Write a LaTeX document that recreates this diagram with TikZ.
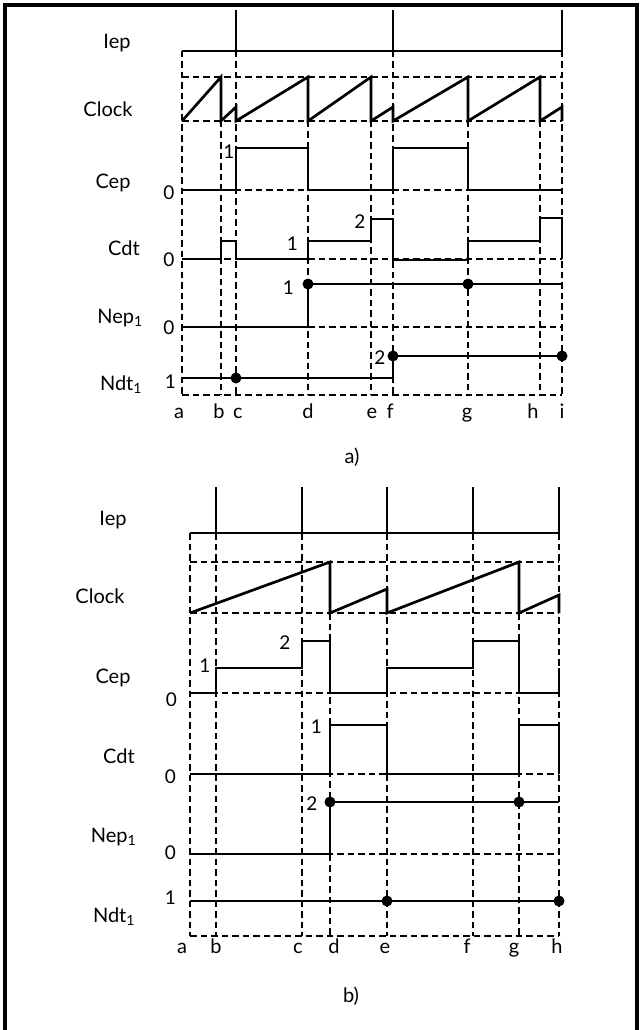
\documentclass[tikz,border=0pt]{standalone}
\usepackage{fontspec}
\setmainfont{Lato}
\tikzset{
  sig/.style={line width=2.7pt, line join=miter},
  guide/.style={dash pattern=on 6.5pt off 4pt, line width=1.9pt},
  dotmark/.style={circle, fill=black, inner sep=0pt, minimum size=11pt},
  lbl/.style={font=\fontsize{20}{24}\selectfont, anchor=base, inner sep=0pt},
  lvl/.style={font=\fontsize{19}{22}\selectfont, inner sep=0pt},
  frame/.style={line width=3.5pt}
}
\begin{document}
\begin{tikzpicture}[x=1pt, y=-1pt]
\useasboundingbox (0,0) rectangle (644,1030);
\fill[white] (0,0) rectangle (644,1030);
\draw[frame] (5,1034) -- (5,5) -- (637,5) -- (637,1034);

% ---------------- panel a ----------------
% guide lines
\foreach \x in {182,236,393,562} \draw[guide] (\x,51) -- (\x,395);
\foreach \x in {221,308,371,468,540} \draw[guide] (\x,121) -- (\x,395);
\foreach \y in {77,121,190,259,327,395} \draw[guide] (182,\y) -- (562,\y);

% Iep
\draw[sig] (182,51) -- (562,51);
\foreach \x in {236,393,562} \draw[sig] (\x,10) -- (\x,51);
% Clock
\draw[sig] (182,121) -- (221,77) -- (221,121) -- (236,107) -- (236,121)
  -- (308,77) -- (308,121) -- (371,77) -- (371,121) -- (393,107) -- (393,121)
  -- (468,77) -- (468,121) -- (540,77) -- (540,121) -- (562,107) -- (562,121);
% Cep
\draw[sig] (182,190) -- (236,190) -- (236,148) -- (308,148) -- (308,190)
  -- (393,190) -- (393,148) -- (468,148) -- (468,190) -- (562,190);
% Cdt
\draw[sig] (182,259) -- (221,259) -- (221,241) -- (236,241) -- (236,259)
  -- (308,259) -- (308,241) -- (371,241) -- (371,219) -- (393,219) -- (393,260)
  -- (468,260) -- (468,241) -- (540,241) -- (540,218) -- (562,218) -- (562,259);
% Nep1
\draw[sig] (182,327) -- (308,327) -- (308,284) -- (562,284);
\node[dotmark] (an1) at (308,284) {};
\node[dotmark] (an2) at (468,284) {};
% Ndt1
\draw[sig] (182,378) -- (393,378) -- (393,356) -- (562,356);
\node[dotmark] (ad1) at (236,378) {};
\node[dotmark] (ad2) at (393,356) {};
\node[dotmark] (ad3) at (562,356) {};

% signal names
\node[lbl] (aIep) at (117,49) {Iep};
\node[lbl] (aClk) at (108,116.5) {Clock};
\node[lbl] (aCep) at (113,188) {Cep};
\node[lbl] (aCdt) at (124,255) {Cdt};
\node[lbl] (aNep) at (120,323) {Nep\textsubscript{1}};
\node[lbl] (aNdt) at (121,390) {Ndt\textsubscript{1}};
% level values
\node[lvl] (av1) at (169,193) {0};
\node[lvl] (av2) at (229,152) {1};
\node[lvl] (av3) at (169,260) {0};
\node[lvl] (av4) at (292.5,244) {1};
\node[lvl] (av5) at (360,221.5) {2};
\node[lvl] (av6) at (169,328) {0};
\node[lvl] (av7) at (288.5,288) {1};
\node[lvl] (av8) at (170.5,381.5) {1};
\node[lvl] (av9) at (380,358) {2};
% time marks
\foreach \x/\t in {179/a,219/b,238/c,308/d,372/e,390/f,467/g,533/h,562/i}
  \node[lbl] (at\t) at (\x,418) {\t};
\node[lbl] (capa) at (352,463) {a)};

% ---------------- panel b ----------------
\foreach \x in {190,216,302,387,473,559} \draw[guide] (\x,533) -- (\x,936);
\foreach \x in {330,519} \draw[guide] (\x,613) -- (\x,936);
\foreach \y in {562,613,693,774,854,936} \draw[guide] (190,\y) -- (559,\y);

% Iep
\draw[sig] (190,533) -- (559,533);
\foreach \x in {216,302,387,473,559} \draw[sig] (\x,487) -- (\x,533);
% Clock
\draw[sig] (190,613) -- (330,562) -- (330,613) -- (387,589) -- (387,613)
  -- (519,562) -- (519,613) -- (559,595) -- (559,613);
% Cep
\draw[sig] (190,693) -- (216,693) -- (216,668) -- (302,668) -- (302,641)
  -- (330,641) -- (330,693) -- (387,693) -- (387,668) -- (473,668) -- (473,641)
  -- (519,641) -- (519,693) -- (559,693) -- (559,668);
% Cdt
\draw[sig] (190,774) -- (330,774) -- (330,725) -- (387,725) -- (387,774)
  -- (519,774) -- (519,725) -- (559,725) -- (559,774);
% Nep1
\draw[sig] (190,854) -- (330,854) -- (330,802) -- (559,802);
\node[dotmark] (bn1) at (330,802) {};
\node[dotmark] (bn2) at (519,802) {};
% Ndt1
\draw[sig] (190,901) -- (559,901);
\node[dotmark] (bd1) at (387,901) {};
\node[dotmark] (bd2) at (559,901) {};

\node[lbl] (bIep) at (113,525) {Iep};
\node[lbl] (bClk) at (100,603) {Clock};
\node[lbl] (bCep) at (113,683) {Cep};
\node[lbl] (bCdt) at (119,763) {Cdt};
\node[lbl] (bNep) at (113.5,842) {Nep\textsubscript{1}};
\node[lbl] (bNdt) at (114,922) {Ndt\textsubscript{1}};
\node[lvl] (bv1) at (171.5,700) {0};
\node[lvl] (bv2) at (205,666) {1};
\node[lvl] (bv3) at (285,643) {2};
\node[lvl] (bv4) at (170.5,777) {0};
\node[lvl] (bv5) at (316.5,727) {1};
\node[lvl] (bv6) at (170.5,853) {0};
\node[lvl] (bv7) at (312,804) {2};
\node[lvl] (bv8) at (170.5,898) {1};
\foreach \x/\t in {182/a,216/b,298/c,334/d,385/e,467/f,514/g,557/h}
  \node[lbl] (bt\t) at (\x,953) {\t};
\node[lbl] (capb) at (351,1002) {b)};
\end{tikzpicture}
\end{document}
